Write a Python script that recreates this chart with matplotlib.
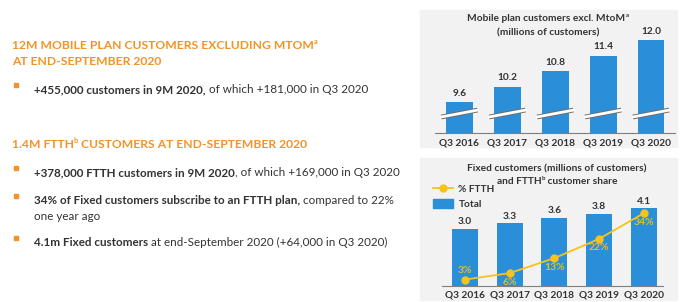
import matplotlib
matplotlib.use('Agg')
import matplotlib.pyplot as plt
from matplotlib.patches import Rectangle, Patch
from matplotlib.lines import Line2D

# chart data
quarters = ['Q3 2016', 'Q3 2017', 'Q3 2018', 'Q3 2019', 'Q3 2020']
mobile = [9.6, 10.2, 10.8, 11.4, 12.0]
fixed = [3.0, 3.3, 3.6, 3.8, 4.1]
ftth_share = [3, 6, 13, 22, 34]
mobile_base = 8.4  # broken axis starts here

ORANGE = '#f39325'
BLUE = '#2a8fd8'
YELLOW = '#f5c31c'
PCT_COL = '#e8bd1c'
BG = '#f2f2f2'
TXT = '#333333'

W, H = 684, 302
plt.rcParams['font.family'] = ['Lato', 'DejaVu Sans']
fig = plt.figure(figsize=(W / 100, H / 100), dpi=100)
renderer = fig.canvas.get_renderer()


def fx(px):
    return px / W


def fy(py):
    return 1 - py / H


def rich(x, y, parts, size=8.4, ha='left'):
    # parts: (text, bold, color, superscript); y is the baseline in pixels
    texts = []
    total = 0
    for text, bold, color, sup in parts:
        fs = size * 0.6 if sup else size
        yy = y - size * 0.6 if sup else y
        t = fig.text(fx(x), fy(yy), text, fontsize=fs, color=color,
                     fontweight='bold' if bold else 'normal', va='baseline')
        w = t.get_window_extent(renderer).width
        texts.append((t, w))
        total += w
    xp = x - total / 2 if ha == 'center' else x
    for t, w in texts:
        t.set_x(fx(xp))
        xp += w


def bullet(y):
    fig.patches.append(Rectangle((fx(13.5), fy(y - 2)), 4.5 / W, 4.5 / H,
                                 transform=fig.transFigure, color=ORANGE))


# left text block
rich(12, 49, [('12M MOBILE PLAN CUSTOMERS EXCLUDING MTOM', True, ORANGE, False),
              ('a', True, ORANGE, True)], size=8.7)
rich(12, 65, [('AT END-SEPTEMBER 2020', True, ORANGE, False)], size=8.7)
bullet(89)
rich(34, 93, [('+455,000 customers in 9M 2020,', True, TXT, False),
              (' of which +181,000 in Q3 2020', False, TXT, False)])

rich(12, 148, [('1.4M FTTH', True, ORANGE, False), ('b', True, ORANGE, True),
               (' CUSTOMERS AT END-SEPTEMBER 2020', True, ORANGE, False)], size=8.7)
bullet(172)
rich(34, 176, [('+378,000 FTTH customers in 9M 2020', True, TXT, False),
               (', of which +169,000 in Q3 2020', False, TXT, False)])
bullet(200)
rich(34, 204, [('34% of Fixed customers subscribe to an FTTH plan,', True, TXT, False),
               (' compared to 22%', False, TXT, False)])
rich(34, 220, [('one year ago', False, TXT, False)])
bullet(242)
rich(34, 246, [('4.1m Fixed customers', True, TXT, False),
               (' at end-September 2020 (+64,000 in Q3 2020)', False, TXT, False)])

# grey panels
fig.patches.append(Rectangle((fx(420), fy(147)), 257 / W, 137 / H,
                             transform=fig.transFigure, color=BG, zorder=-5))
fig.patches.append(Rectangle((fx(420), fy(300)), 257 / W, 142 / H,
                             transform=fig.transFigure, color=BG, zorder=-5))

x = list(range(len(quarters)))

# mobile chart
ax1 = fig.add_axes([fx(435), fy(133), 240 / W, 103 / H])
ax1.patch.set_alpha(0)
ax1.bar(x, [v - mobile_base for v in mobile], bottom=mobile_base, width=0.56, color=BLUE)
ax1.set_xlim(-0.51, 4.5)
ax1.set_ylim(mobile_base, mobile_base + 103 / 25.8)
for i, v in zip(x, mobile):
    ax1.annotate(f'{v:.1f}', (i, v), xytext=(0, 3), textcoords='offset points',
                 ha='center', va='bottom', fontsize=7.3, fontweight='bold', color=TXT)
    # axis break marks
    ax1.plot([i - 0.38, i + 0.38], [mobile_base + 0.62, mobile_base + 0.89],
             color='#6e6e6e', lw=3.4, solid_capstyle='butt', zorder=3)
    ax1.plot([i - 0.40, i + 0.40], [mobile_base + 0.615, mobile_base + 0.895],
             color='white', lw=2.0, solid_capstyle='butt', zorder=4)
ax1.set_xticks(x, quarters, fontsize=7.3, fontweight='bold', color=TXT)
ax1.tick_params(axis='x', length=0, pad=4)
ax1.set_yticks([])
for s in ['left', 'right', 'top']:
    ax1.spines[s].set_visible(False)
ax1.spines['bottom'].set_color('#7f7f7f')
ax1.spines['bottom'].set_linewidth(0.8)
rich(548, 21, [('Mobile plan customers excl. MtoM', True, TXT, False),
               ('a', True, TXT, True)], size=7.3, ha='center')
rich(548, 35, [('(millions of customers)', True, TXT, False)], size=7.3, ha='center')

# fixed chart
ax2 = fig.add_axes([fx(442), fy(286), 221 / W, 106 / H])
ax2.patch.set_alpha(0)
ax2.bar(x, fixed, width=0.58, color=BLUE, label='Total')
ax2.set_xlim(-0.51, 4.43)
ax2.set_ylim(0, 106 / 18.95)
for i, v in zip(x, fixed):
    ax2.annotate(f'{v:.1f}', (i, v), xytext=(0, 2), textcoords='offset points',
                 ha='center', va='bottom', fontsize=7.3, fontweight='bold', color=TXT)
ax2.set_xticks(x, quarters, fontsize=7.3, fontweight='bold', color=TXT)
ax2.tick_params(axis='x', length=0, pad=3)
ax2.set_yticks([])
for s in ['left', 'right', 'top']:
    ax2.spines[s].set_visible(False)
ax2.spines['bottom'].set_color('#7f7f7f')
ax2.spines['bottom'].set_linewidth(0.8)

ax3 = ax2.twinx()
ax3.plot(x, ftth_share, color=YELLOW, lw=1.3, marker='o', ms=5, label='% FTTH')
ax3.set_ylim(0, 106 / 2.14)
ax3.axis('off')
for i, v in zip(x, ftth_share):
    dy = 6.5 if i == 0 else -6.5
    ax3.annotate(f'{v}%', (i, v), xytext=(0, dy), textcoords='offset points',
                 ha='center', va='center',
                 fontsize=7.5, fontweight='bold', color=PCT_COL)

rich(557, 171, [('Fixed customers (millions of customers)', True, TXT, False)],
     size=7.3, ha='center')
rich(557, 184, [('and FTTH', True, TXT, False), ('b', True, TXT, True),
                (' customer share', True, TXT, False)], size=7.3, ha='center')

handles = [Line2D([], [], color=YELLOW, lw=1.3, marker='o', ms=5),
           Patch(color=BLUE)]
fig.legend(handles, ['% FTTH', 'Total'], loc='upper left',
           bbox_to_anchor=(fx(428), fy(179)), frameon=False,
           prop={'size': 7.3, 'weight': 'bold'}, handlelength=2.0, handleheight=1.0,
           labelspacing=0.5, handletextpad=0.5, borderpad=0, labelcolor=TXT)

fig.savefig('out.png', dpi=100)
